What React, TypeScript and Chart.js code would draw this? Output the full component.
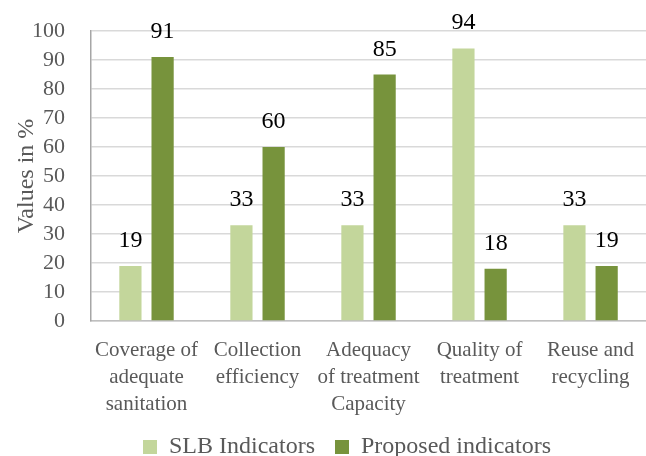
import React, { useEffect, useRef } from "react";
import { Chart, registerables } from "chart.js";

Chart.register(...registerables);

const categories: string[][] = [
  ["Coverage of", "adequate", "sanitation"],
  ["Collection", "efficiency"],
  ["Adequacy", "of treatment", "Capacity"],
  ["Quality of", "treatment"],
  ["Reuse and", "recycling"],
];
const slbValues = [19, 33, 33, 94, 33];
const proposedValues = [91, 60, 85, 18, 19];
const seriesNames = ["SLB Indicators", "Proposed indicators"];
const yMin = 0;
const yMax = 100;
const yStep = 10;

const FONT = '"Liberation Serif", "Times New Roman", serif';
const GREY = "#595959";

const valueLabels = {
  id: "valueLabels",
  afterDatasetsDraw(chart: any) {
    const ctx = chart.ctx;
    ctx.save();
    ctx.font = `24px ${FONT}`;
    ctx.fillStyle = "#000";
    ctx.textAlign = "center";
    ctx.textBaseline = "alphabetic";
    chart.data.datasets.forEach((ds: any, i: number) => {
      const meta = chart.getDatasetMeta(i);
      meta.data.forEach((bar: any, j: number) => {
        ctx.fillText(String(ds.data[j]), bar.x, bar.y - 19);
      });
    });
    ctx.restore();
  },
};

const legendShift = {
  id: "legendShift",
  afterLayout(chart: any) {
    const lg = chart.legend;
    if (lg) {
      lg.left += 22;
      lg.right += 22;
    }
  },
};

export default function App() {
  const ref = useRef<HTMLCanvasElement | null>(null);
  useEffect(() => {
    if (!ref.current) return;
    const chart = new Chart(ref.current, {
      type: "bar",
      data: {
        labels: categories,
        datasets: [
          {
            label: seriesNames[0],
            data: slbValues,
            backgroundColor: "#C3D69B",
            categoryPercentage: 0.58,
            barPercentage: 0.69,
          },
          {
            label: seriesNames[1],
            data: proposedValues,
            backgroundColor: "#77933C",
            categoryPercentage: 0.58,
            barPercentage: 0.69,
          },
        ],
      },
      options: {
        animation: false,
        responsive: true,
        maintainAspectRatio: false,
        layout: { padding: { top: 31, right: 0, bottom: 0, left: 0 } },
        plugins: {
          tooltip: { enabled: false },
          legend: {
            position: "bottom",
            labels: {
              boxWidth: 14,
              boxHeight: 14,
              padding: 20,
              color: GREY,
              font: { family: FONT, size: 24 },
            },
          },
        },
        scales: {
          x: {
            grid: { display: false, drawTicks: false },
            border: { display: true, color: "#bfbfbf", width: 1.5 },
            ticks: {
              color: GREY,
              padding: 16,
              maxRotation: 0,
              autoSkip: false,
              font: { family: FONT, size: 21, lineHeight: 1.29 },
            },
            afterFit: (scale: any) => {
              scale.height = 94;
            },
          },
          y: {
            min: yMin,
            max: yMax,
            grid: { color: "#d9d9d9", lineWidth: 1.5, drawTicks: false },
            border: { display: true, color: "#a6a6a6", width: 1.5 },
            ticks: {
              stepSize: yStep,
              autoSkip: false,
              color: GREY,
              padding: 26,
              font: { family: FONT, size: 22 },
            },
            title: {
              display: true,
              text: "Values in %",
              color: GREY,
              padding: { top: 12, bottom: 0 },
              font: { family: FONT, size: 24 },
            },
            afterFit: (scale: any) => {
              scale.width = 91;
              scale.paddingTop = 12;
              scale.paddingBottom = 12;
            },
          },
        },
      },
      plugins: [valueLabels, legendShift],
    } as any);
    return () => chart.destroy();
  }, []);

  return (
    <div
      style={{
        position: "fixed",
        left: 0,
        top: 0,
        width: 646,
        height: 456,
        overflow: "hidden",
        background: "#fff",
      }}
    >
      <div style={{ position: "relative", width: 650, height: 469 }}>
        <canvas ref={ref} />
      </div>
    </div>
  );
}
